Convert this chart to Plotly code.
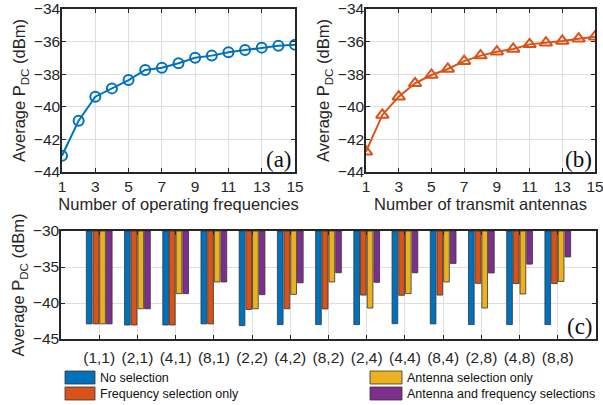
import plotly.graph_objects as go

# ---------------- data ----------------
n_freq = list(range(1, 16))
pdc_freq = [-43.0, -40.85, -39.38, -38.87, -38.36, -37.74, -37.6, -37.33,
            -36.99, -36.86, -36.66, -36.52, -36.37, -36.25, -36.19]

n_ant = list(range(1, 16))
pdc_ant = [-42.75, -40.5, -39.38, -38.56, -38.05, -37.68, -37.2, -36.86,
           -36.62, -36.45, -36.17, -36.07, -35.96, -35.82, -35.7]

configs = ["(1,1)", "(2,1)", "(4,1)", "(8,1)", "(2,2)", "(4,2)", "(8,2)",
           "(2,4)", "(4,4)", "(8,4)", "(2,8)", "(4,8)", "(8,8)"]
no_sel = [-42.9, -43.06, -43.06, -42.9, -43.15, -43.0, -43.0, -43.0, -42.87, -42.9, -43.0, -43.0, -43.0]
freq_sel = [-42.9, -43.06, -43.06, -42.9, -40.9, -40.8, -40.83, -38.9, -38.93, -38.9, -37.27, -37.3, -37.3]
ant_sel = [-42.9, -40.8, -38.7, -37.08, -40.8, -38.8, -37.08, -40.7, -38.7, -37.08, -40.7, -38.75, -37.0]
both_sel = [-42.9, -40.8, -38.7, -37.08, -38.84, -37.2, -35.8, -37.13, -35.8, -34.5, -35.83, -34.6, -33.6]

bar_series = [
    ("No selection", no_sel, "#0072BD"),
    ("Frequency selection only", freq_sel, "#D95319"),
    ("Antenna selection only", ant_sel, "#EDB120"),
    ("Antenna and frequency selections", both_sel, "#7E2F8E"),
]
bar_base = -30

# ---------------- figure ----------------
W, H = 603, 405
fig = go.Figure()

fig.add_trace(go.Scatter(
    x=n_freq, y=pdc_freq, mode="lines+markers", xaxis="x", yaxis="y",
    line=dict(color="#0072BD", width=2),
    marker=dict(symbol="circle-open", size=10, color="#0072BD", line=dict(width=2)),
    showlegend=False))

fig.add_trace(go.Scatter(
    x=n_ant, y=pdc_ant, mode="lines+markers", xaxis="x2", yaxis="y2",
    line=dict(color="#D95319", width=2),
    marker=dict(symbol="triangle-up-open", size=11, color="#D95319", line=dict(width=2)),
    showlegend=False))

for name, vals, col in bar_series:
    fig.add_trace(go.Bar(
        x=configs, y=[v - bar_base for v in vals], base=bar_base,
        xaxis="x3", yaxis="y3", name=name,
        marker=dict(color=col, line=dict(color="#333333", width=0.8)),
        showlegend=False))

tickfont = dict(family="Liberation Sans, Arial", size=15.5, color="#262626")
titlefont = dict(family="Liberation Sans, Arial", size=16.5, color="#262626")
axcommon = dict(showline=True, linecolor="#262626", linewidth=1.5, mirror="ticks",
                ticks="inside", ticklen=4, tickcolor="#262626", tickwidth=1,
                showgrid=True, gridcolor="#dedede", gridwidth=1, automargin=False,
                zeroline=False, tickfont=tickfont, ticklabeloverflow="allow")

def px_x(p):
    return p / W

def px_y(p):
    return (H - p) / H

dom_a = [px_x(62), px_x(295)]
dom_b = [px_x(366), px_x(595)]
dom_c = [px_x(61), px_x(596)]
dom_ab_y = [px_y(172), px_y(9)]
dom_c_y = [px_y(339), px_y(231)]

ytitle = dict(text="Average P<sub>DC</sub> (dBm)", font=titlefont, standoff=4)

fig.update_layout(
    width=W, height=H, margin=dict(l=0, r=0, t=0, b=0, autoexpand=False),
    paper_bgcolor="white", plot_bgcolor="white",
    barmode="group", bargap=0.3, bargroupgap=0.15,
    xaxis=dict(axcommon, domain=dom_a, anchor="y", range=[1, 15],
               tickvals=list(range(1, 16, 2)),
               title=dict(text="Number of operating frequencies", font=titlefont, standoff=1)),
    yaxis=dict(axcommon, domain=dom_ab_y, anchor="x", range=[-44, -34],
               tickvals=list(range(-44, -33, 2)), title=ytitle, ticklabelstandoff=-3),
    xaxis2=dict(axcommon, domain=dom_b, anchor="y2", range=[1, 15],
                tickvals=list(range(1, 16, 2)),
                title=dict(text="Number of transmit antennas", font=titlefont, standoff=1)),
    yaxis2=dict(axcommon, domain=dom_ab_y, anchor="x2", range=[-44, -34],
                tickvals=list(range(-44, -33, 2)), title=ytitle, ticklabelstandoff=-3),
    xaxis3=dict(axcommon, domain=dom_c, anchor="y3", range=[-1, 13],
                type="category", ticklabelstandoff=4),
    yaxis3=dict(axcommon, domain=dom_c_y, anchor="x3", range=[-45, -30],
                tickvals=[-45, -40, -35, -30], title=ytitle, ticklabelstandoff=-3),
)

# panel labels
serif = dict(family="Liberation Serif, Times New Roman", size=23, color="#111111")
for lab, xr, yr in [("(a)", "x domain", "y domain"), ("(b)", "x2 domain", "y2 domain"),
                    ("(c)", "x3 domain", "y3 domain")]:
    fig.add_annotation(text=lab, xref=xr, yref=yr, x=1, y=0, xanchor="right",
                       yanchor="bottom", showarrow=False, font=serif, xshift=-1, yshift=-2)

# custom legend (two columns, wide swatches)
legpos = [(65, 95, 371, 384, 98), (65, 95, 387, 400, 98),
          (370, 402, 371, 384, 405), (370, 402, 387, 400, 405)]
legfont = dict(family="Liberation Sans, Arial", size=12.5, color="#111111")
for (name, vals, col), (x0, x1, y0, y1, tx) in zip(bar_series, legpos):
    fig.add_shape(type="rect", xref="paper", yref="paper",
                  x0=px_x(x0), x1=px_x(x1), y0=px_y(y1), y1=px_y(y0),
                  fillcolor=col, line=dict(color="#333333", width=0.8))
    fig.add_annotation(text=name, xref="paper", yref="paper", x=px_x(tx),
                       y=px_y((y0 + y1) / 2), xanchor="left", yanchor="middle",
                       showarrow=False, font=legfont)

# remove the browser's default 8px page margin so the figure fills the window
fig.write_html("out.html", config={"displayModeBar": False},
               post_script="document.body.style.margin='0';")
